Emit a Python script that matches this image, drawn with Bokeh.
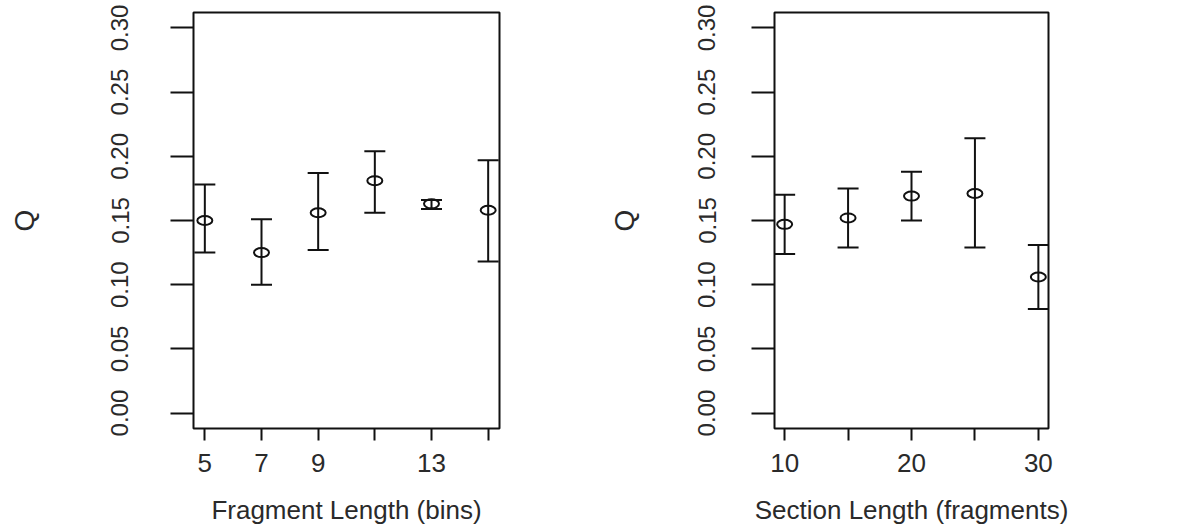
from bokeh.plotting import figure
from bokeh.layouts import row
from bokeh.models import Range1d, FixedTicker
from bokeh.embed import file_html
from bokeh.resources import INLINE

# Panel 1: Fragment length (bins)
frag_x = [5, 7, 9, 11, 13, 15]
frag_q = [0.150, 0.125, 0.156, 0.181, 0.163, 0.158]
frag_lo = [0.125, 0.100, 0.127, 0.156, 0.159, 0.118]
frag_hi = [0.178, 0.151, 0.187, 0.204, 0.166, 0.197]
frag_ticks = [5, 7, 9, 11, 13, 15]
frag_tick_labels = ["5", "7", "9", "", "13", ""]

# Panel 2: Section length (fragments)
sect_x = [10, 15, 20, 25, 30]
sect_q = [0.147, 0.152, 0.169, 0.171, 0.106]
sect_lo = [0.124, 0.129, 0.150, 0.129, 0.081]
sect_hi = [0.170, 0.175, 0.188, 0.214, 0.131]
sect_ticks = [10, 15, 20, 25, 30]
sect_tick_labels = ["10", "", "20", "", "30"]

y_ticks = [0.0, 0.05, 0.10, 0.15, 0.20, 0.25, 0.30]
y_tick_labels = ["0.00", "0.05", "0.10", "0.15", "0.20", "0.25", "0.30"]

INK = "#111111"
TXT = "#2a2a2a"
FONT = "Liberation Sans"


def panel(x, q, lo, hi, xr, xticks, xlabels, xtitle, width, bl, br,
          ystand, qstand):
    p = figure(width=width, height=527, x_range=Range1d(*xr),
               y_range=Range1d(-0.012, 0.312), output_backend="svg",
               toolbar_location=None, min_border_left=bl, min_border_right=br,
               min_border_top=12, min_border_bottom=98)
    p.grid.visible = False
    p.outline_line_color = INK
    p.outline_line_width = 2
    p.background_fill_color = "white"
    p.border_fill_color = "white"

    # error bars
    p.segment(x0=x, y0=lo, x1=x, y1=hi, line_color=INK, line_width=2)
    p.dash(x=x, y=lo, size=21, line_color=INK, line_width=2)
    p.dash(x=x, y=hi, size=21, line_color=INK, line_width=2)
    p.ellipse(x=x, y=q, width=15, height=9, width_units="screen",
              height_units="screen", fill_color=None, line_color=INK,
              line_width=2)

    xa = p.xaxis[0]
    xa.ticker = FixedTicker(ticks=xticks)
    xa.major_label_overrides = {t: l for t, l in zip(xticks, xlabels)}
    xa.axis_line_color = None
    xa.major_tick_out = 12
    xa.major_tick_in = 0
    xa.minor_tick_line_color = None
    xa.major_tick_line_color = INK
    xa.major_tick_line_width = 2
    xa.major_label_text_font = FONT
    xa.major_label_text_font_size = "26px"
    xa.major_label_text_color = TXT
    xa.major_label_standoff = 13
    xa.axis_label = xtitle
    xa.axis_label_text_font = FONT
    xa.axis_label_text_font_size = "26px"
    xa.axis_label_text_font_style = "normal"
    xa.axis_label_text_color = TXT
    xa.axis_label_standoff = 20

    ya = p.yaxis[0]
    ya.ticker = FixedTicker(ticks=y_ticks)
    ya.major_label_overrides = {t: l for t, l in zip(y_ticks, y_tick_labels)}
    ya.major_label_orientation = "parallel"
    ya.axis_line_color = None
    ya.major_tick_out = 23
    ya.major_tick_in = 0
    ya.minor_tick_line_color = None
    ya.major_tick_line_color = INK
    ya.major_tick_line_width = 2
    ya.major_label_text_font = FONT
    ya.major_label_text_font_size = "24px"
    ya.major_label_text_color = TXT
    ya.major_label_standoff = ystand
    ya.axis_label = "Q"
    ya.axis_label_text_font = FONT
    ya.axis_label_text_font_size = "28px"
    ya.axis_label_text_font_style = "normal"
    ya.axis_label_text_color = TXT
    ya.axis_label_standoff = qstand
    return p


p1 = panel(frag_x, frag_q, frag_lo, frag_hi, (4.6, 15.4), frag_ticks,
           frag_tick_labels, "Fragment Length (bins)", 592, 193, 93, 42, 69)
p2 = panel(sect_x, sect_q, sect_lo, sect_hi, (9.2, 30.8), sect_ticks,
           sect_tick_labels, "Section Length (fragments)", 592, 182, 136,
           36, 56)

layout = row(p1, p2)
open("out.html", "w").write(file_html(layout, INLINE))
